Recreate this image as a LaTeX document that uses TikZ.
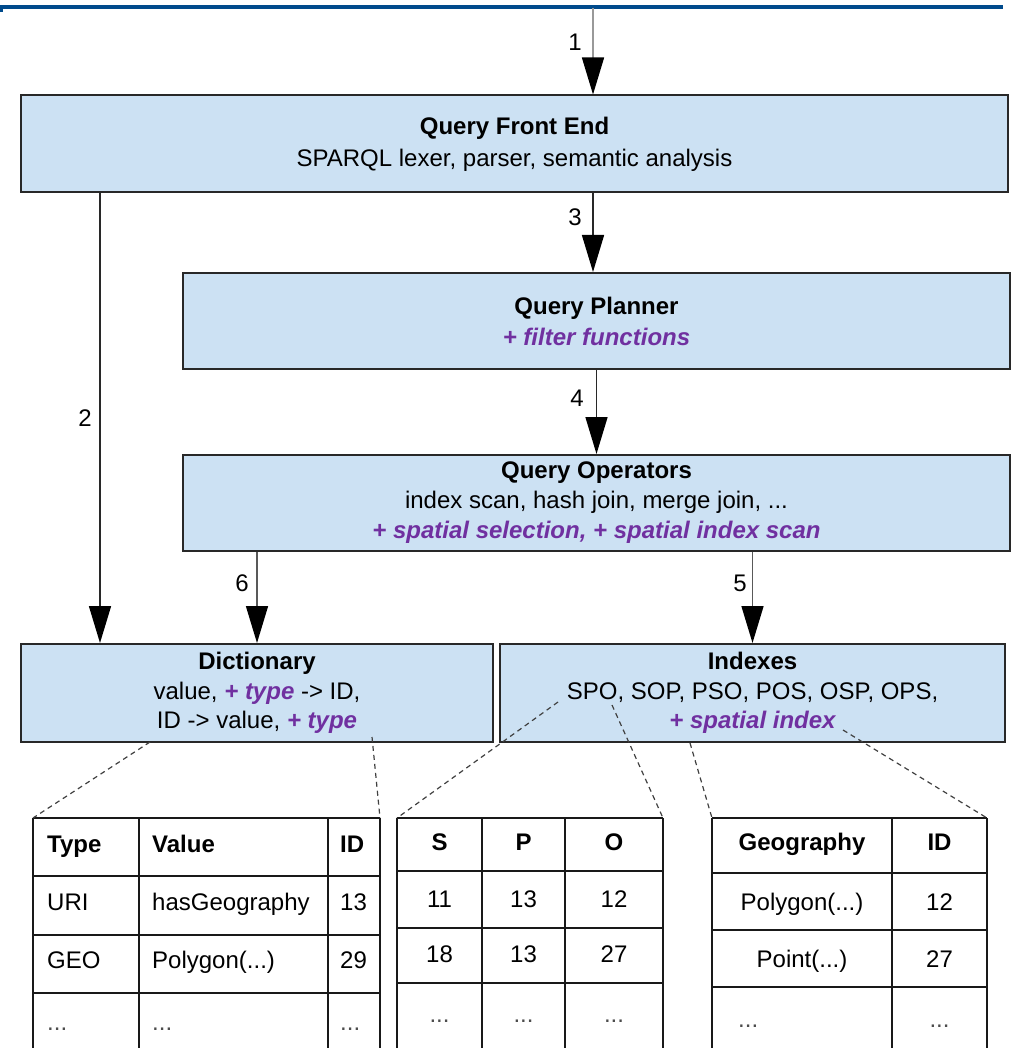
\documentclass[tikz,border=0pt]{standalone}
\usepackage{fontspec}
\setmainfont{Liberation Sans}
\usetikzlibrary{arrows.meta}
\definecolor{boxfill}{RGB}{204,225,243}
\definecolor{purp}{RGB}{112,48,160}
\definecolor{hdrblue}{RGB}{0,74,140}
\definecolor{edge}{RGB}{40,40,40}
\newcommand{\pp}[1]{{\color{purp}\bfseries\itshape #1}}
\begin{document}
\begin{tikzpicture}[x=1pt,y=-1pt,
  box/.style={draw=edge, line width=2pt, fill=boxfill, align=center, inner sep=0pt},
  arr/.style={draw=edge, line width=1.5pt, -{Triangle[length=37pt,width=22pt,color=black]}},
  lbl/.style={font=\fontsize{24}{28}\selectfont, inner sep=0pt},
  cell/.style={font=\fontsize{24}{28}\selectfont, inner sep=0pt, anchor=base},
  lcell/.style={cell, anchor=base west},
  dots/.style={text=black!70},
  dsh/.style={draw=black!75, line width=1.2pt, dash pattern=on 5pt off 4pt},
  gridl/.style={draw=black!90, line width=2pt}
]
\useasboundingbox (0,0) rectangle (1019,1048);
% header rule
\draw[hdrblue, line width=3.5pt] (0,7) -- (1003,7);
\fill[hdrblue] (0,7) rectangle (2.5,12);

% boxes
\node[box, minimum width=987pt, minimum height=97pt, font=\fontsize{24}{32}\selectfont] (qfe) at (514.5,144)
  {\textbf{Query Front End}\\SPARQL lexer, parser, semantic analysis};
\node[box, minimum width=827pt, minimum height=96pt, font=\fontsize{24}{31}\selectfont] (qp) at (596.5,321)
  {\textbf{Query Planner}\\\pp{+ filter functions}};
\node[box, minimum width=827pt, minimum height=96pt, font=\fontsize{24}{30}\selectfont] (qo) at (596.5,503)
  {\textbf{Query Operators}\\index scan, hash join, merge join, ...\\\pp{+ spatial selection, + spatial index scan}};
\node[box, minimum width=472pt, minimum height=98pt, font=\fontsize{24}{29.5}\selectfont] (dict) at (257,693)
  {\textbf{Dictionary}\\value, \pp{+ type} -> ID,\\ID -> value, \pp{+ type}};
\node[box, minimum width=505pt, minimum height=98pt, font=\fontsize{24}{29.5}\selectfont] (idx) at (752.5,693)
  {\textbf{Indexes}\\SPO, SOP, PSO, POS, OSP, OPS,\\\pp{+ spatial index}};

% arrows
\coordinate (top1) at (593,8);
\coordinate (x2) at (100,0);
\coordinate (x3) at (593,0);
\draw[arr, draw=black!40] (top1) -- (top1 |- qfe.north);
\draw[arr] (x2 |- qfe.south) -- (x2 |- dict.north);
\draw[arr] (x3 |- qfe.south) -- (x3 |- qp.north);
\draw[arr] (qp.south) -- (qo.north);
\draw[arr, draw=black!65] (dict.north |- qo.south) -- (dict.north);
\draw[arr, draw=black!65] (idx.north |- qo.south) -- (idx.north);
\node[lbl] (l1) at (575,42) {1};
\node[lbl] (l2) at (85,418) {2};
\node[lbl] (l3) at (575,217) {3};
\node[lbl] (l4) at (577,398) {4};
\node[lbl] (l6) at (242,583) {6};
\node[lbl] (l5) at (740,583) {5};

% table 1
\foreach \x in {33,139,328,380} \draw[gridl] (\x,818) -- (\x,1048);
\foreach \y in {818,876,935,993} \draw[gridl] (33,\y) -- (380,\y);
\node[lcell] (t1a) at (47,852) {\textbf{Type}};
\node[lcell] (t1b) at (152,852) {\textbf{Value}};
\node[lcell] (t1c) at (340,852) {\textbf{ID}};
\node[lcell] (t1d) at (47,910) {URI};
\node[lcell] (t1e) at (152,910) {hasGeography};
\node[lcell] (t1f) at (340,910) {13};
\node[lcell] (t1g) at (47,968) {GEO};
\node[lcell] (t1h) at (152,968) {Polygon(...)};
\node[lcell] (t1i) at (340,968) {29};
\node[lcell, dots] (t1j) at (47,1030) {...};
\node[lcell, dots] (t1k) at (152,1030) {...};
\node[lcell, dots] (t1l) at (340,1030) {...};

% table 2
\foreach \x in {397,482,565,663} \draw[gridl] (\x,818) -- (\x,1048);
\foreach \y in {818,871,928,983} \draw[gridl] (397,\y) -- (663,\y);
\node[cell] (t2a) at (439.5,850) {\textbf{S}};
\node[cell] (t2b) at (523.5,850) {\textbf{P}};
\node[cell] (t2c) at (614,850) {\textbf{O}};
\node[cell] (t2d) at (439.5,907) {11};
\node[cell] (t2e) at (523.5,907) {13};
\node[cell] (t2f) at (614,907) {12};
\node[cell] (t2g) at (439.5,962) {18};
\node[cell] (t2h) at (523.5,962) {13};
\node[cell] (t2i) at (614,962) {27};
\node[cell, dots] (t2j) at (439.5,1022) {...};
\node[cell, dots] (t2k) at (523.5,1022) {...};
\node[cell, dots] (t2l) at (614,1022) {...};

% table 3
\foreach \x in {712,892,987} \draw[gridl] (\x,818) -- (\x,1048);
\foreach \y in {818,873,930,987} \draw[gridl] (712,\y) -- (987,\y);
\node[cell] (t3a) at (802,850) {\textbf{Geography}};
\node[cell] (t3b) at (939.5,850) {\textbf{ID}};
\node[cell] (t3c) at (802,910) {Polygon(...)};
\node[cell] (t3d) at (939.5,910) {12};
\node[cell] (t3e) at (802,967) {Point(...)};
\node[cell] (t3f) at (939.5,967) {27};
\node[lcell, dots] (t3g) at (738,1027) {...};
\node[cell, dots] (t3h) at (939.5,1027) {...};

% callout dashed lines
\coordinate (d1) at (150,742);
\coordinate (d2) at (372,737);
\coordinate (i1) at (558,702);
\coordinate (i2) at (612,705);
\coordinate (i3) at (690,743);
\coordinate (i4) at (843,730);
\coordinate (c1l) at (33,818);
\coordinate (c1r) at (380,818);
\coordinate (c2l) at (397,818);
\coordinate (c2r) at (663,818);
\coordinate (c3l) at (712,818);
\coordinate (c3r) at (987,818);
\draw[dsh] (d1) -- (c1l);
\draw[dsh] (d2) -- (c1r);
\draw[dsh] (i1) -- (c2l);
\draw[dsh] (i2) -- (c2r);
\draw[dsh] (i3) -- (c3l);
\draw[dsh] (i4) -- (c3r);
\end{tikzpicture}
\end{document}
